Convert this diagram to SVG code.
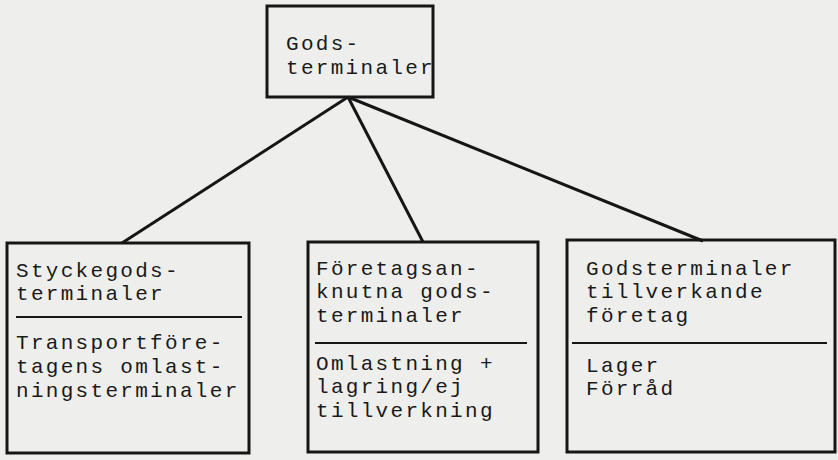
<svg xmlns="http://www.w3.org/2000/svg" width="838" height="460" viewBox="0 0 838 460">
<style>
.box{fill:none;stroke:#161616;stroke-width:3}
.div{stroke:#161616;stroke-width:2.2}
.con{stroke:#161616;stroke-width:3;fill:none}
text{font-family:"Liberation Mono","DejaVu Sans Mono",monospace;font-size:21px;letter-spacing:2.3px;fill:#1a1a1a}
</style>
<rect width="838" height="460" fill="#eeeeec"/>
<g id="connectors">
<line class="con" x1="348" y1="97" x2="122" y2="243"/>
<line class="con" x1="348" y1="97" x2="423" y2="242"/>
<line class="con" x1="348" y1="97" x2="703" y2="241"/>
</g>
<g id="root">
<rect class="box" x="267" y="6" width="166" height="91"/>
<text x="286" y="50">Gods-</text>
<text x="286" y="74">terminaler</text>
</g>
<g id="n1">
<rect class="box" x="7" y="243" width="242" height="210"/>
<line class="div" x1="16" y1="317" x2="242" y2="317"/>
<text x="16" y="277">Styckegods-</text>
<text x="16" y="300">terminaler</text>
<text x="16" y="349">Transportföre-</text>
<text x="16" y="373">tagens omlast-</text>
<text x="16" y="397">ningsterminaler</text>
</g>
<g id="n2">
<rect class="box" x="308" y="242" width="230" height="210"/>
<line class="div" x1="315" y1="343" x2="527" y2="343"/>
<text x="316" y="275">Företagsan-</text>
<text x="316" y="298">knutna gods-</text>
<text x="316" y="322">terminaler</text>
<text x="316" y="370">Omlastning +</text>
<text x="316" y="393">lagring/ej</text>
<text x="316" y="417">tillverkning</text>
</g>
<g id="n3">
<rect class="box" x="567" y="240" width="268" height="212"/>
<line class="div" x1="572" y1="343" x2="827" y2="343"/>
<text x="586" y="275">Godsterminaler</text>
<text x="586" y="298">tillverkande</text>
<text x="586" y="322">företag</text>
<text x="586" y="372">Lager</text>
<text x="586" y="395">Förråd</text>
</g>
</svg>
